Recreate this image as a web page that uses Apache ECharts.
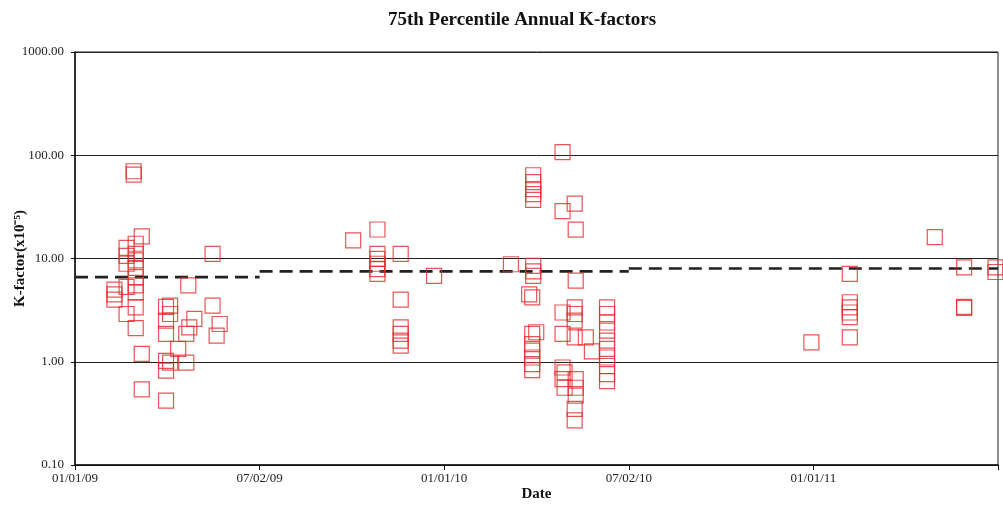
<!DOCTYPE html>
<html>
<head>
<meta charset="utf-8">
<script src="https://cdn.jsdelivr.net/npm/echarts@6/dist/echarts.min.js"></script>
<style>
html,body{margin:0;padding:0;background:#fff;}
#chart{width:1003px;height:505px;}
</style>
</head>
<body>
<div id="chart"></div>
<script>
// ---- data ----
const sampleDates = [
  '2009-02-28','2009-02-28','2009-03-08','2009-02-21','2009-03-02','2009-03-02',
  '2009-02-21','2009-02-21','2009-03-02','2009-03-02','2009-03-02',
  '2009-02-09','2009-02-09','2009-02-09','2009-02-21','2009-02-21',
  '2009-03-02','2009-03-02','2009-03-02','2009-03-02','2009-03-08','2009-03-08',
  '2009-04-01','2009-04-01','2009-04-01','2009-04-01','2009-04-01','2009-04-01',
  '2009-04-05','2009-04-05','2009-04-05','2009-04-13','2009-04-21','2009-04-21',
  '2009-04-24','2009-04-29','2009-04-23','2009-05-17','2009-05-17','2009-05-24','2009-05-21',
  '2009-10-03','2009-10-27','2009-10-27','2009-10-27','2009-10-27','2009-10-27','2009-10-27',
  '2009-11-19','2009-11-19','2009-11-19','2009-11-19','2009-11-19','2009-11-19','2009-12-22',
  '2010-04-28','2010-03-30','2010-03-30','2010-03-30','2010-03-30','2010-03-30',
  '2010-04-28','2010-05-10','2010-05-11','2010-03-08','2010-03-30','2010-03-30','2010-03-30',
  '2010-05-11','2010-03-26','2010-03-29','2010-04-28','2010-05-10','2010-05-10','2010-05-10',
  '2010-04-02','2010-03-29','2010-04-28','2010-05-10','2010-05-21','2010-05-27',
  '2010-03-29','2010-03-29','2010-03-29','2010-03-29','2010-03-29',
  '2010-04-28','2010-04-28','2010-04-30','2010-04-30',
  '2010-05-11','2010-05-11','2010-05-11','2010-05-10','2010-05-10',
  '2010-06-11','2010-06-11','2010-06-11','2010-06-11','2010-06-11',
  '2010-06-11','2010-06-11','2010-06-11','2010-06-11','2010-06-11',
  '2010-12-30','2011-02-06','2011-02-06','2011-02-06','2011-02-06','2011-02-06','2011-02-06',
  '2011-05-01','2011-05-30','2011-05-30','2011-05-30','2011-06-30','2011-06-30'
];
const kFactors = [
  65, 70, 16.4, 12.7, 13.9, 11.1,
  10.6, 8.9, 9.6, 8.1, 6.6,
  5.0, 4.5, 4.0, 5.3, 2.9,
  5.5, 4.7, 3.36, 2.12, 1.19, 0.54,
  3.4, 2.5, 1.86, 1.02, 0.82, 0.42,
  3.5, 2.9, 0.98, 1.33, 0.98, 1.86,
  2.15, 2.6, 5.5, 11.1, 3.5, 2.32, 1.79,
  15, 19.1, 11.1, 9.9, 8.9, 7.9, 7.1,
  11.1, 4.0, 2.15, 1.86, 1.6, 1.43, 6.8,
  107, 64, 55, 47, 42, 37,
  28.8, 34, 19, 8.8, 8.5, 7.5, 6.8,
  6.1, 4.5, 4.2, 3.0, 3.36, 2.9, 2.5,
  1.93, 1.86, 1.86, 1.72, 1.72, 1.26,
  1.48, 1.28, 1.1, 0.95, 0.83,
  0.88, 0.68, 0.79, 0.56,
  0.68, 0.56, 0.47, 0.35, 0.27,
  3.36, 2.9, 2.4, 2.0, 1.6,
  1.33, 1.1, 0.91, 0.76, 0.65,
  1.54, 7.1, 3.77, 3.36, 3.0, 2.7, 1.72,
  16.1, 8.2, 3.32, 3.4, 8.2, 7.4
];
// annual 75th percentile (dashed step line): breaks in days from 01/01/09
const meanBreaks = [0, 182.5, 547.5, 912.5];
const meanValues = [6.6, 7.5, 8.0];

const DAY = 86400000;
const ORIGIN = Date.UTC(2009, 0, 1);
function toDays(s) {
  const p = s.split('-').map(Number);
  return (Date.UTC(p[0], p[1] - 1, p[2]) - ORIGIN) / DAY;
}
function fmtDate(v) {
  const d = new Date(ORIGIN + v * DAY);
  const mm = String(d.getUTCMonth() + 1).padStart(2, '0');
  const dd = String(d.getUTCDate()).padStart(2, '0');
  const yy = String(d.getUTCFullYear() % 100).padStart(2, '0');
  return mm + '/' + dd + '/' + yy;
}

const scatterData = sampleDates.map((d, i) => [toDays(d), kFactors[i]]);
const meanData = [];
meanValues.forEach((v, i) => {
  meanData.push([meanBreaks[i], v]);
  meanData.push([meanBreaks[i + 1], v]);
  if (i < meanValues.length - 1) meanData.push(null);
});

const serif = 'Liberation Serif';
const chart = echarts.init(document.getElementById('chart'), null, {renderer: 'canvas'});
chart.setOption({
  backgroundColor: '#ffffff',
  animation: false,
  title: {
    text: '75th Percentile Annual K-factors',
    left: 517, top: 6, textAlign: 'center',
    textStyle: {fontFamily: serif, fontWeight: 'bold', fontSize: 19, color: '#111'}
  },
  grid: {
    left: 75, right: 5, top: 52, bottom: 40,
    outerBoundsMode: 'none', containLabel: false,
    show: true, borderColor: '#222', borderWidth: 1, backgroundColor: 'transparent'
  },
  xAxis: {
    type: 'value', min: 0, max: 912.5, interval: 182.5,
    name: 'Date', nameLocation: 'middle', nameGap: 22, nameMoveOverlap: false,
    nameTextStyle: {fontFamily: serif, fontWeight: 'bold', fontSize: 15, color: '#111'},
    axisLine: {show: true, lineStyle: {color: '#111', width: 1.5}},
    axisTick: {show: true, length: 5, lineStyle: {color: '#111'}},
    splitLine: {show: false},
    axisLabel: {
      fontFamily: serif, fontSize: 13, color: '#222', margin: 7,
      formatter: v => (v > 800 ? '' : fmtDate(v))
    }
  },
  yAxis: {
    type: 'log', logBase: 10, min: 0.1, max: 1000,
    name: 'K-factor(x10⁻⁵)', nameLocation: 'middle', nameGap: 47, nameMoveOverlap: false,
    nameTextStyle: {fontFamily: serif, fontWeight: 'bold', fontSize: 15, color: '#111'},
    axisLine: {show: true, lineStyle: {color: '#111', width: 1.5}},
    axisTick: {show: true, length: 4, lineStyle: {color: '#111'}},
    minorTick: {show: false},
    splitLine: {show: true, lineStyle: {color: '#222', width: 1}},
    axisLabel: {
      fontFamily: serif, fontSize: 13, color: '#222', margin: 11,
      formatter: v => Number(v).toFixed(2)
    }
  },
  series: [
    {
      type: 'line',
      data: meanData,
      connectNulls: false,
      symbol: 'none',
      lineStyle: {color: '#222', width: 2.6, type: [13, 7]},
      z: 2
    },
    {
      type: 'scatter',
      data: scatterData,
      symbol: 'rect',
      symbolSize: 15,
      itemStyle: {color: 'rgba(0,0,0,0)', borderColor: '#e02a2a', borderWidth: 1.2},
      z: 3
    }
  ]
});
</script>
</body>
</html>
